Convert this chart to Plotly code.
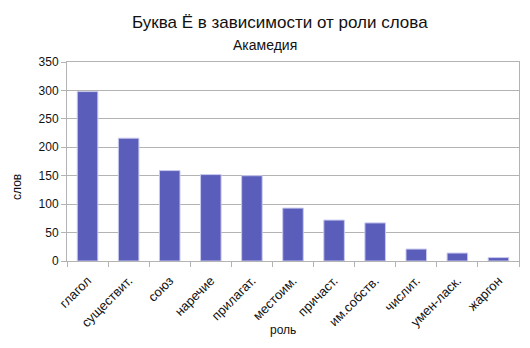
import plotly.graph_objects as go

categories = ["глагол", "существит.", "союз", "наречие", "прилагат.", "местоим.",
              "причаст.", "им.собств.", "числит.", "умен-ласк.", "жаргон"]
values = [298, 216, 159, 152, 150, 93, 72, 67, 21, 14, 6]
y_ticks = [0, 50, 100, 150, 200, 250, 300, 350]

FONT = "Liberation Sans, Arial, sans-serif"
GRID = "#b3b3b3"

fig = go.Figure(go.Bar(
    x=categories, y=values,
    marker=dict(color="#5b5dba", line=dict(color="#c8c9ee", width=1)),
))

fig.update_layout(
    width=530, height=348,
    margin=dict(l=67, r=11, t=62, b=87),
    paper_bgcolor="white", plot_bgcolor="white",
    font=dict(family=FONT, size=12, color="#111"),
    bargap=0.5,
    showlegend=False,
    annotations=[
        dict(text="Буква Ё в зависимости от роли слова", xref="paper", yref="paper",
             x=(279.5 - 67) / 452, y=1, yshift=40, showarrow=False,
             font=dict(size=17, family=FONT, color="#111"), xanchor="center", yanchor="middle"),
        dict(text="Акамедия", xref="paper", yref="paper",
             x=(265 - 67) / 452, y=1, yshift=17, showarrow=False,
             font=dict(size=14, family=FONT, color="#111"), xanchor="center", yanchor="middle"),
        dict(text="слов", xref="paper", yref="paper", x=0, xshift=-50,
             y=(261 - 187) / 199, textangle=-90, showarrow=False,
             font=dict(size=12, family=FONT, color="#111"), xanchor="center", yanchor="middle"),
        dict(text="роль", xref="paper", yref="paper", x=(283 - 67) / 452,
             y=0, yshift=-69, showarrow=False,
             font=dict(size=12, family=FONT, color="#111"), xanchor="center", yanchor="middle"),
    ],
)

fig.update_xaxes(
    showline=True, linecolor=GRID, linewidth=1, mirror=True,
    ticks="outside", tickson="boundaries", ticklen=5, tickcolor=GRID,
    tickangle=-45, showgrid=False, ticklabelstandoff=6,
    tickfont=dict(size=13, family=FONT, color="#111"),
)
fig.update_yaxes(
    range=[0, 350], tickvals=y_ticks,
    showline=True, linecolor=GRID, linewidth=1, mirror=True,
    ticks="outside", ticklen=5, tickcolor=GRID,
    showgrid=True, gridcolor=GRID, gridwidth=1, zeroline=False,
    tickfont=dict(size=12, family=FONT, color="#111"),
)

fig.write_html("out.html")
